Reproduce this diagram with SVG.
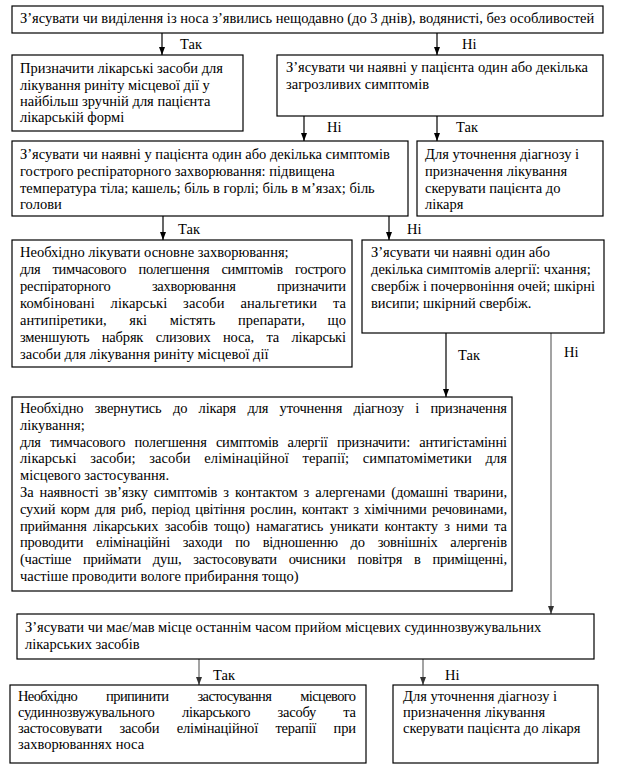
<svg xmlns="http://www.w3.org/2000/svg" width="620" height="776" viewBox="0 0 620 776">
<defs>
<marker id="ah" viewBox="0 0 8 6" refX="8" refY="3" markerWidth="8" markerHeight="6" markerUnits="userSpaceOnUse" orient="auto">
<path d="M0,0 L8,3 L0,6 z" fill="#000"/>
</marker>
<marker id="ahg" viewBox="0 0 8 6" refX="8" refY="3" markerWidth="8" markerHeight="6" markerUnits="userSpaceOnUse" orient="auto">
<path d="M0,0 L8,3 L0,6 z" fill="#333"/>
</marker>
</defs>
<style>
text { font-family: "Liberation Serif", "Times New Roman", serif; font-size: 14.5px; fill: #000; }
.box { fill: #fff; stroke: #000; stroke-width: 1.2; }
.c { stroke: #000; stroke-width: 1.2; fill: none; marker-end: url(#ah); }
.cg { stroke: #666; stroke-width: 1.2; fill: none; marker-end: url(#ahg); }
</style>
<rect width="620" height="776" fill="#fff"/>

<g id="connectors">
<line class="c" x1="162" y1="33" x2="162" y2="55"/>
<text x="180" y="49">Так</text>
<line class="c" x1="437" y1="33" x2="437" y2="55"/>
<text x="462" y="49">Ні</text>
<line class="c" x1="304" y1="116" x2="304" y2="141"/>
<text x="327" y="132">Ні</text>
<line class="c" x1="437" y1="116" x2="437" y2="141"/>
<text x="456" y="132">Так</text>
<line class="c" x1="163" y1="216" x2="163" y2="240"/>
<text x="178" y="234">Так</text>
<line class="c" x1="389" y1="216" x2="389" y2="240"/>
<text x="407" y="234">Ні</text>
<line class="c" x1="446" y1="333" x2="446" y2="397"/>
<text x="458" y="360">Так</text>
<line class="cg" x1="551" y1="333" x2="551" y2="614"/>
<text x="564" y="357">Ні</text>
<line class="cg" x1="199" y1="659" x2="199" y2="685"/>
<text x="213" y="680">Так</text>
<line class="cg" x1="423" y1="659" x2="423" y2="685"/>
<text x="445" y="680">Ні</text>
</g>

<g id="n1">
<rect class="box" x="12" y="6" width="591" height="27"/>
<text x="20" y="23">З’ясувати чи виділення із носа з’явились нещодавно (до 3 днів), водянисті, без особливостей</text>
</g>

<g id="n2">
<rect class="box" x="12" y="55" width="231" height="76"/>
<text x="20" y="73">Призначити лікарські засоби для</text>
<text x="20" y="90">лікування риніту місцевої дії у</text>
<text x="20" y="106">найбільш зручній для пацієнта</text>
<text x="20" y="122">лікарській формі</text>
</g>

<g id="n3">
<rect class="box" x="277" y="55" width="326" height="61"/>
<text x="286" y="72">З’ясувати чи наявні у пацієнта один або декілька</text>
<text x="286" y="89">загрозливих симптомів</text>
</g>

<g id="n4">
<rect class="box" x="12" y="141" width="396" height="75"/>
<text x="20" y="159">З’ясувати чи наявні у пацієнта один або декілька симптомів</text>
<text x="20" y="176">гострого респіраторного захворювання: підвищена</text>
<text x="20" y="193">температура тіла; кашель; біль в горлі; біль в м’язах; біль</text>
<text x="20" y="209">голови</text>
</g>

<g id="n5">
<rect class="box" x="417" y="141" width="186" height="75"/>
<text x="425" y="159">Для уточнення діагнозу і</text>
<text x="425" y="176">призначення лікування</text>
<text x="425" y="193">скерувати пацієнта до</text>
<text x="425" y="209">лікаря</text>
</g>

<g id="n6">
<rect class="box" x="12" y="240" width="340" height="127"/>
<text x="20" y="257">Необхідно лікувати основне захворювання;</text>
<text x="20" y="274" textLength="326" lengthAdjust="spacing" word-spacing="9">для тимчасового полегшення симптомів гострого</text>
<text x="20" y="291" textLength="326" lengthAdjust="spacing" word-spacing="38">респіраторного захворювання призначити</text>
<text x="20" y="308" textLength="326" lengthAdjust="spacing" word-spacing="12">комбіновані лікарські засоби анальгетики та</text>
<text x="20" y="325" textLength="326" lengthAdjust="spacing" word-spacing="19">антипіретики, які містять препарати, що</text>
<text x="20" y="342" textLength="326" lengthAdjust="spacing" word-spacing="9">зменшують набряк слизових носа, та лікарські</text>
<text x="20" y="359">засоби для лікування риніту місцевої дії</text>
</g>

<g id="n7">
<rect class="box" x="362" y="240" width="242" height="93"/>
<text x="371" y="257">З’ясувати чи наявні один або</text>
<text x="371" y="274">декілька симптомів алергії: чхання;</text>
<text x="371" y="291">свербіж і почервоніння очей; шкірні</text>
<text x="371" y="308">висипи; шкірний свербіж.</text>
</g>

<g id="n8">
<rect class="box" x="12" y="397" width="500" height="194"/>
<text x="20" y="413" textLength="487" lengthAdjust="spacing" word-spacing="7.8">Необхідно звернутись до лікаря для уточнення діагнозу і призначення</text>
<text x="20" y="430">лікування;</text>
<text x="20" y="447" textLength="487" lengthAdjust="spacing" word-spacing="5.8">для тимчасового полегшення симптомів алергії призначити: антигістамінні</text>
<text x="20" y="463" textLength="487" lengthAdjust="spacing" word-spacing="10">лікарські засоби; засоби елімінаційної терапії; симпатоміметики для</text>
<text x="20" y="480">місцевого застосування.</text>
<text x="20" y="497" textLength="487" lengthAdjust="spacing" word-spacing="2.5">За наявності зв’язку симптомів з контактом з алергенами (домашні тварини,</text>
<text x="20" y="514" textLength="487" lengthAdjust="spacing" word-spacing="2">сухий корм для риб, період цвітіння рослин, контакт з хімічними речовинами,</text>
<text x="20" y="531" textLength="487" lengthAdjust="spacing" word-spacing="2.9">приймання лікарських засобів тощо) намагатись уникати контакту з ними та</text>
<text x="20" y="547" textLength="487" lengthAdjust="spacing" word-spacing="9.4">проводити елімінаційні заходи по відношенню до зовнішніх алергенів</text>
<text x="20" y="564" textLength="487" lengthAdjust="spacing" word-spacing="8.4">(частіше приймати душ, застосовувати очисники повітря в приміщенні,</text>
<text x="20" y="581">частіше проводити вологе прибирання тощо)</text>
</g>

<g id="n9">
<rect class="box" x="17" y="614" width="577" height="45"/>
<text x="25" y="632">З’ясувати чи має/мав місце останнім часом прийом місцевих судиннозвужувальних</text>
<text x="25" y="649">лікарських засобів</text>
</g>

<g id="n10">
<rect class="box" x="10" y="685" width="356" height="78"/>
<text x="18" y="701" textLength="338" lengthAdjust="spacing" word-spacing="26">Необхідно припинити застосування місцевого</text>
<text x="18" y="717" textLength="338" lengthAdjust="spacing" word-spacing="24">судиннозвужувального лікарського засобу та</text>
<text x="18" y="733" textLength="338" lengthAdjust="spacing" word-spacing="14">застосовувати засоби елімінаційної терапії при</text>
<text x="18" y="749">захворюваннях носа</text>
</g>

<g id="n11">
<rect class="box" x="393" y="685" width="205" height="78"/>
<text x="403" y="701">Для уточнення діагнозу і</text>
<text x="403" y="717">призначення лікування</text>
<text x="403" y="733">скерувати пацієнта до лікаря</text>
</g>
</svg>
